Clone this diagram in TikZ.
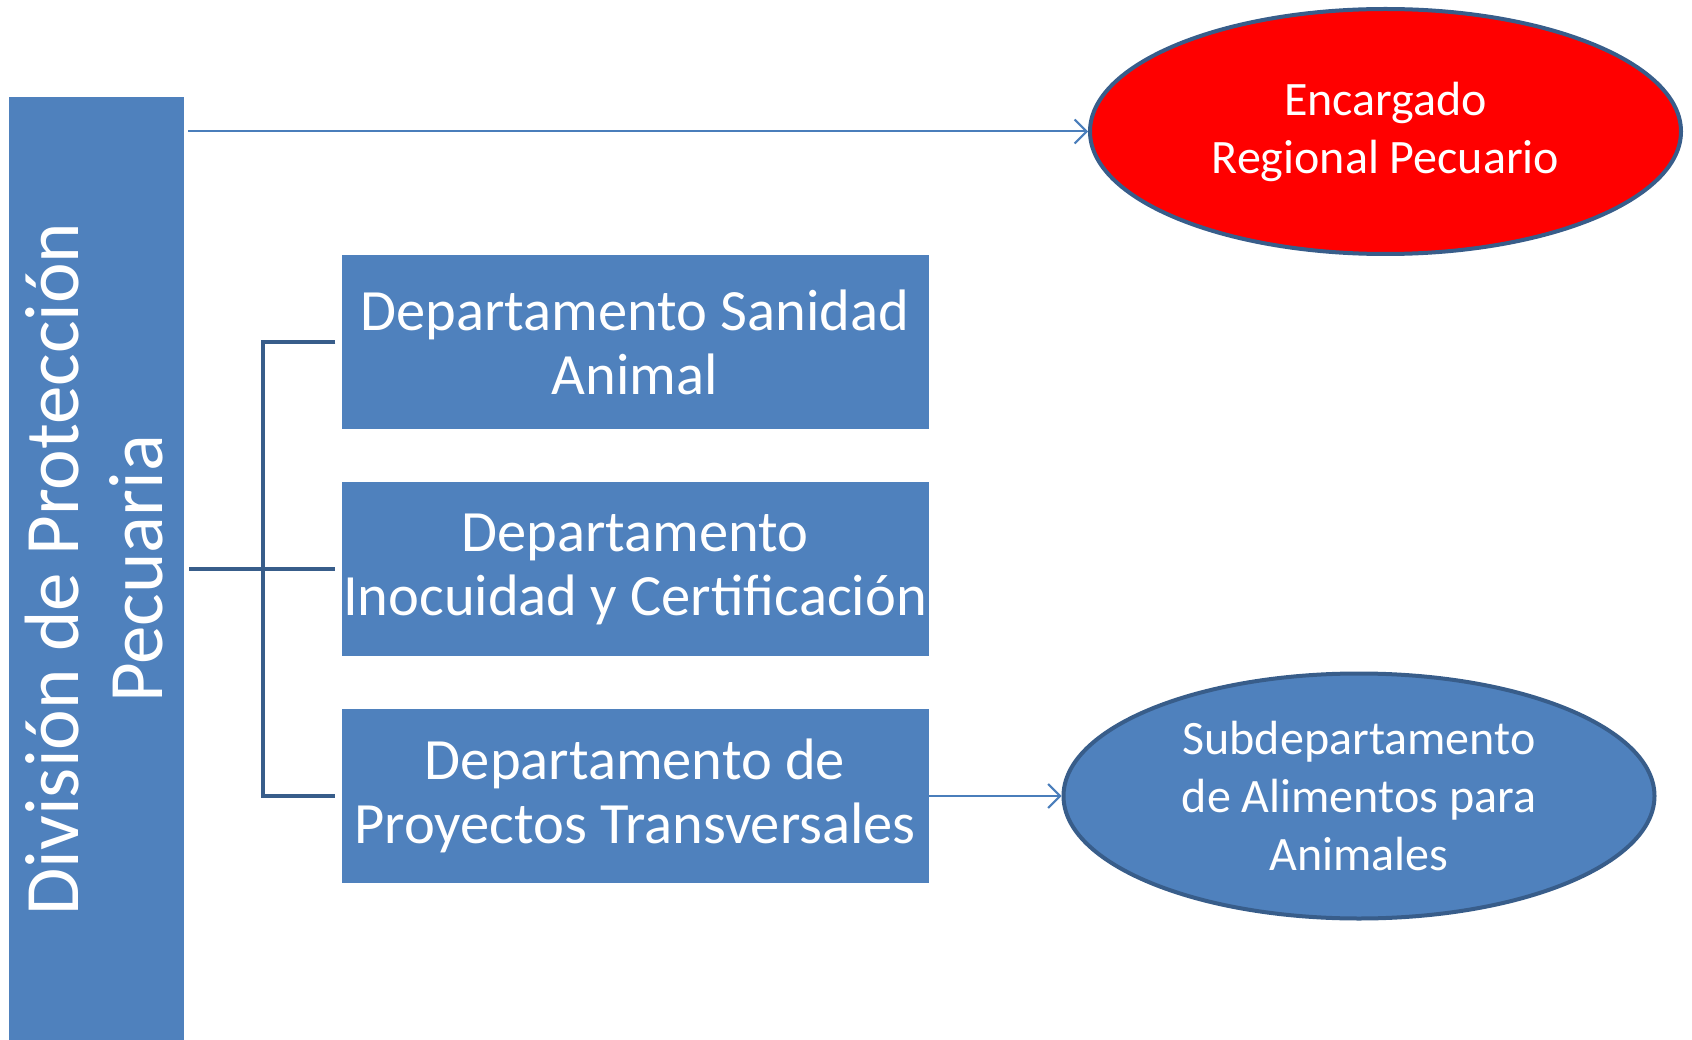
\documentclass[tikz,border=0pt]{standalone}
\usepackage{fontspec}
\setmainfont{Carlito}
\usetikzlibrary{arrows.meta, shapes.geometric}
\definecolor{officeblue}{HTML}{4F81BD}
\definecolor{rimblue}{HTML}{385D8A}
\definecolor{linkblue}{HTML}{4A7EBB}

\begin{document}
\begin{tikzpicture}[x=1pt, y=-1pt,
    every node/.style={text=white, align=center, inner sep=0pt},
    bar/.style={rectangle, fill=officeblue, minimum width=175pt, minimum height=943pt},
    dept/.style={rectangle, fill=officeblue, minimum width=587pt, minimum height=174pt,
                 font=\fontsize{58.5}{64}\selectfont},
    unit/.style={ellipse, draw=rimblue, line width=4pt, minimum width=591pt, minimum height=245pt,
                 font=\fontsize{48}{58}\selectfont},
    link/.style={draw=linkblue, line width=2pt, -{Straight Barb[length=12pt,width=24pt]}},
    bracket/.style={draw=rimblue, line width=4.5pt}]
\useasboundingbox (0,0) rectangle (1692,1040);

% division and departments
\node[bar] (division) at (96.5,568.5) {};
\node[rotate=90, font=\fontsize{77}{84}\selectfont] (divtext) at (94,569) {División de Protección\\Pecuaria};
\node[dept] (sanidad) at (635,342) {Departamento Sanidad\\Animal};
\node[dept] (inocuidad) at (635,569) {Departamento\\Inocuidad y Certificación};
\node[dept] (proyectos) at (635,796) {Departamento de\\Proyectos Transversales};

% units on the right
\node[unit, fill=red] (encargado) at (1385.5,131.5) {Encargado\\Regional Pecuario};
\node[unit, fill=officeblue] (alimentos) at (1359,796) {Subdepartamento\\de Alimentos para\\Animales};

% connectors
\coordinate (spine) at (263,569);
\draw[bracket, shorten <=5pt, shorten >=6pt] (division.east |- inocuidad.west) -- (inocuidad.west);
\draw[bracket, shorten <=6pt, shorten >=6pt] (sanidad.west) -| (spine) |- (proyectos.west);
\draw[link, shorten <=4pt] (division.east |- encargado.west) -- (encargado.west);
\draw[link] (proyectos.east) -- (alimentos.west);
\end{tikzpicture}
\end{document}
